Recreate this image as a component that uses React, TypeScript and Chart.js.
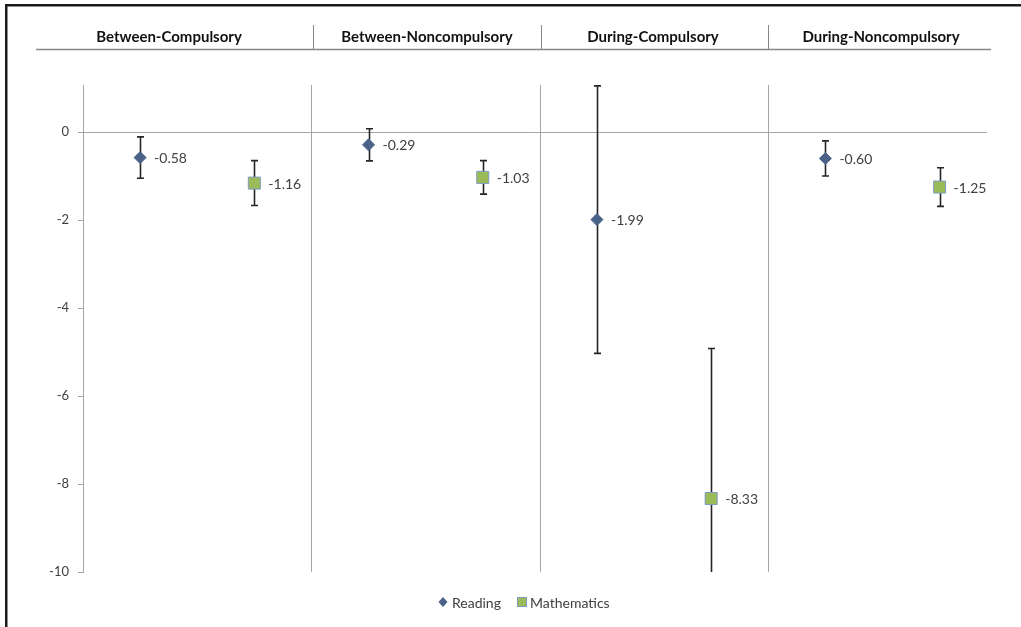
import React, { useEffect, useRef } from "react";
import { Chart, registerables } from "chart.js";

Chart.register(...registerables);

const groups = ["Between-Compulsory", "Between-Noncompulsory", "During-Compulsory", "During-Noncompulsory"];
const seriesNames = ["Reading", "Mathematics"];
const readingValues = [-0.58, -0.29, -1.99, -0.6];
const readingErrors = [0.47, 0.365, 3.04, 0.4];
const mathValues = [-1.16, -1.03, -8.33, -1.25];
const mathErrors = [0.51, 0.38, 3.41, 0.44];
const yTicks = [0, -2, -4, -6, -8, -10];

const FONT = "Lato, 'Open Sans', sans-serif";
const GRID = "#aaa3a3";
const TEXT = "#404040";
const READ_COLOR = "#4a6188";
const MATH_FILL = "#9bbb59";
const MATH_BORDER = "#7d9cc4";
const ERR = "#262626";

const errorsBySeries = [readingErrors, mathErrors];

const decor = {
  id: "decor",
  beforeDatasetsDraw(chart: any) {
    const { ctx, chartArea: a, scales } = chart;
    const x = scales.x;
    const y = scales.y;
    ctx.save();
    ctx.strokeStyle = GRID;
    ctx.lineWidth = 1;
    for (let g = 1; g < groups.length; g++) {
      const px = Math.round(x.getPixelForValue(2 * g)) + 0.5;
      ctx.beginPath();
      ctx.moveTo(px, a.top);
      ctx.lineTo(px, a.bottom);
      ctx.stroke();
    }
    ctx.beginPath();
    ctx.rect(a.left, a.top - 3, a.right - a.left, a.bottom - a.top + 3);
    ctx.clip();
    ctx.strokeStyle = ERR;
    ctx.lineWidth = 1.6;
    chart.data.datasets.forEach((ds: any, di: number) => {
      const errs = errorsBySeries[di];
      ds.data.forEach((pt: any, i: number) => {
        const px = Math.round(x.getPixelForValue(pt.x)) + 0.5;
        const yt = y.getPixelForValue(pt.y + errs[i]);
        const yb = y.getPixelForValue(pt.y - errs[i]);
        ctx.beginPath();
        ctx.moveTo(px, yt);
        ctx.lineTo(px, yb);
        ctx.moveTo(px - 3.5, yt);
        ctx.lineTo(px + 3.5, yt);
        ctx.moveTo(px - 3.5, yb);
        ctx.lineTo(px + 3.5, yb);
        ctx.stroke();
      });
    });
    ctx.restore();
  },
  afterDatasetsDraw(chart: any) {
    const { ctx, scales } = chart;
    const x = scales.x;
    const y = scales.y;
    ctx.save();
    ctx.font = `14px ${FONT}`;
    ctx.fillStyle = TEXT;
    ctx.textAlign = "left";
    ctx.textBaseline = "middle";
    chart.data.datasets.forEach((ds: any) => {
      ds.data.forEach((pt: any) => {
        ctx.fillText(pt.y.toFixed(2), x.getPixelForValue(pt.x) + 14, y.getPixelForValue(pt.y) + 1);
      });
    });
    ctx.restore();
  },
  afterDraw(chart: any) {
    const { ctx } = chart;
    ctx.save();
    // frame
    ctx.fillStyle = "#1c1c1c";
    ctx.fillRect(5, 4, 1016, 2.5);
    ctx.fillRect(5, 4, 2.5, 623);
    // header table
    const cols = [36, 313, 541, 768, 991];
    const centers = [169, 427, 653, 881];
    ctx.strokeStyle = "#8a8686";
    ctx.lineWidth = 1.5;
    ctx.beginPath();
    ctx.moveTo(cols[0], 49.5);
    ctx.lineTo(cols[cols.length - 1], 49.5);
    ctx.stroke();
    ctx.lineWidth = 1;
    for (let i = 1; i < cols.length - 1; i++) {
      ctx.beginPath();
      ctx.moveTo(cols[i] + 0.5, 25);
      ctx.lineTo(cols[i] + 0.5, 49);
      ctx.stroke();
    }
    ctx.font = `bold 15px ${FONT}`;
    ctx.fillStyle = "#111111";
    ctx.textAlign = "center";
    ctx.textBaseline = "middle";
    groups.forEach((g, i) => {
      ctx.fillText(g, centers[i], 37);
    });
    // legend
    ctx.font = `14px ${FONT}`;
    ctx.textAlign = "left";
    const ly = 602;
    ctx.fillStyle = READ_COLOR;
    ctx.beginPath();
    ctx.moveTo(443, ly - 5);
    ctx.lineTo(447.5, ly);
    ctx.lineTo(443, ly + 5);
    ctx.lineTo(438.5, ly);
    ctx.closePath();
    ctx.fill();
    ctx.fillStyle = TEXT;
    ctx.fillText(seriesNames[0], 452, ly + 1);
    ctx.fillStyle = MATH_FILL;
    ctx.fillRect(517, ly - 5, 10, 10);
    ctx.strokeStyle = MATH_BORDER;
    ctx.strokeRect(517.5, ly - 4.5, 9, 9);
    ctx.fillStyle = TEXT;
    ctx.fillText(seriesNames[1], 530, ly + 1);
    ctx.restore();
  },
};

export default function App() {
  const ref = useRef<HTMLCanvasElement | null>(null);
  useEffect(() => {
    if (!ref.current) return;
    const chart = new Chart(ref.current, {
      type: "scatter",
      data: {
        datasets: [
          {
            label: seriesNames[0],
            data: readingValues.map((v, i) => ({ x: 2 * i + 0.5, y: v })),
            pointStyle: "rectRot",
            pointRadius: 6,
            backgroundColor: READ_COLOR,
            borderColor: READ_COLOR,
            borderWidth: 1,
            showLine: false,
          },
          {
            label: seriesNames[1],
            data: mathValues.map((v, i) => ({ x: 2 * i + 1.5, y: v })),
            pointStyle: "rect",
            pointRadius: 8.5,
            backgroundColor: MATH_FILL,
            borderColor: MATH_BORDER,
            borderWidth: 1,
            showLine: false,
          },
        ],
      },
      options: {
        responsive: false,
        animation: false,
        events: [],
        layout: { padding: { top: 85, bottom: 55, left: 0, right: 34 } },
        plugins: { legend: { display: false }, tooltip: { enabled: false } },
        scales: {
          x: { type: "linear", min: 0, max: 7.915, display: false },
          y: {
            type: "linear",
            min: -10,
            max: 1.07,
            afterBuildTicks: (s: any) => {
              s.ticks = yTicks.map((v) => ({ value: v }));
            },
            afterFit: (s: any) => {
              s.width = 83;
            },
            border: { display: true, color: GRID, width: 1 },
            grid: {
              color: (c: any) => (c.tick && c.tick.value === 0 ? GRID : "rgba(0,0,0,0)"),
              tickColor: GRID,
              tickLength: 5,
              drawTicks: true,
            },
            ticks: {
              padding: 9,
              color: TEXT,
              font: { family: FONT, size: 13 },
              callback: (v: any) => String(v),
            },
          },
        },
      },
      plugins: [decor],
    });
    return () => chart.destroy();
  }, []);
  return (
    <div style={{ position: "absolute", left: 0, top: 0, width: 1021, height: 627, background: "#fff" }}>
      <canvas ref={ref} width={1021} height={627} />
    </div>
  );
}
